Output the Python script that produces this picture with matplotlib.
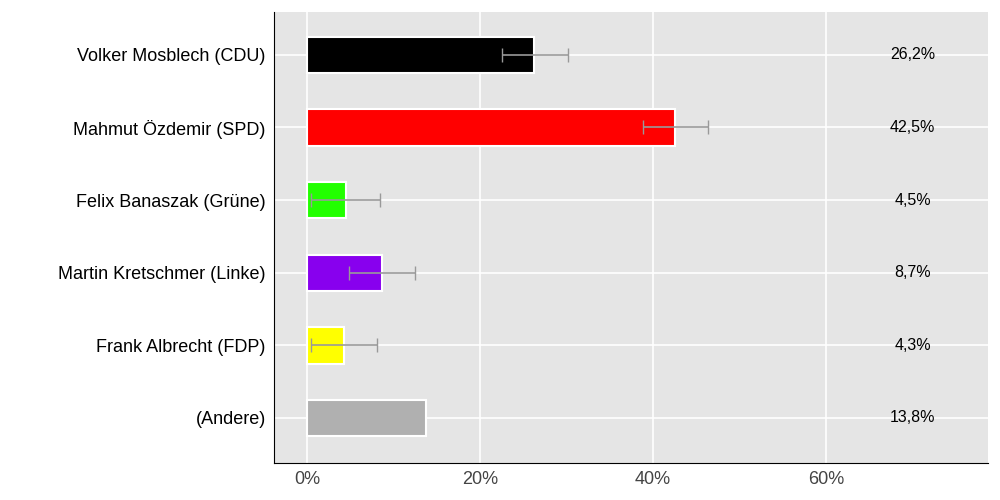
import matplotlib
matplotlib.use("Agg")
import matplotlib.pyplot as plt
import numpy as np

plt.rcParams['font.family'] = ['Liberation Sans', 'DejaVu Sans']

names = ["Volker Mosblech (CDU)", "Mahmut Özdemir (SPD)", "Felix Banaszak (Grüne)",
         "Martin Kretschmer (Linke)", "Frank Albrecht (FDP)", "(Andere)"]
values = [26.2, 42.5, 4.5, 8.7, 4.3, 13.8]
err_lo = [22.5, 38.8, 0.5, 4.9, 0.5, None]
err_hi = [30.2, 46.3, 8.4, 12.5, 8.1, None]
colors = ["#000000", "#ff0000", "#22ff00", "#8800ee", "#ffff00", "#b0b0b0"]
labels = ["26,2%", "42,5%", "4,5%", "8,7%", "4,3%", "13,8%"]

fig = plt.figure(figsize=(10, 5), dpi=100)
ax = fig.add_axes([0.274, 0.074, 0.714, 0.902])
ax.set_facecolor("#e5e5e5")
y = np.arange(len(names))
ax.barh(y, values, height=0.5, color=colors, edgecolor="white", linewidth=1.5, zorder=3)
for i in range(len(names)):
    if err_lo[i] is not None:
        ax.errorbar((err_lo[i] + err_hi[i]) / 2, y[i], xerr=(err_hi[i] - err_lo[i]) / 2,
                    fmt="none", ecolor="#999999", capsize=5, elinewidth=1.2, zorder=4)
    ax.text(70, y[i], labels[i], ha="center", va="center", fontsize=11.5, zorder=5)
ax.set_yticks(y)
ax.set_yticklabels(names, fontsize=13)
ax.set_xticks([0, 20, 40, 60])
ax.set_xticklabels(["0%", "20%", "40%", "60%"], fontsize=13, color="#444444")
ax.set_xlim(-3.8, 78.7)
ax.set_ylim(5.62, -0.59)
ax.grid(True, color="white", linewidth=1.2, zorder=0)
ax.set_axisbelow(True)
for s in ["top", "right"]:
    ax.spines[s].set_visible(False)
ax.tick_params(length=0, pad=6)
fig.savefig("out.png", dpi=100)
